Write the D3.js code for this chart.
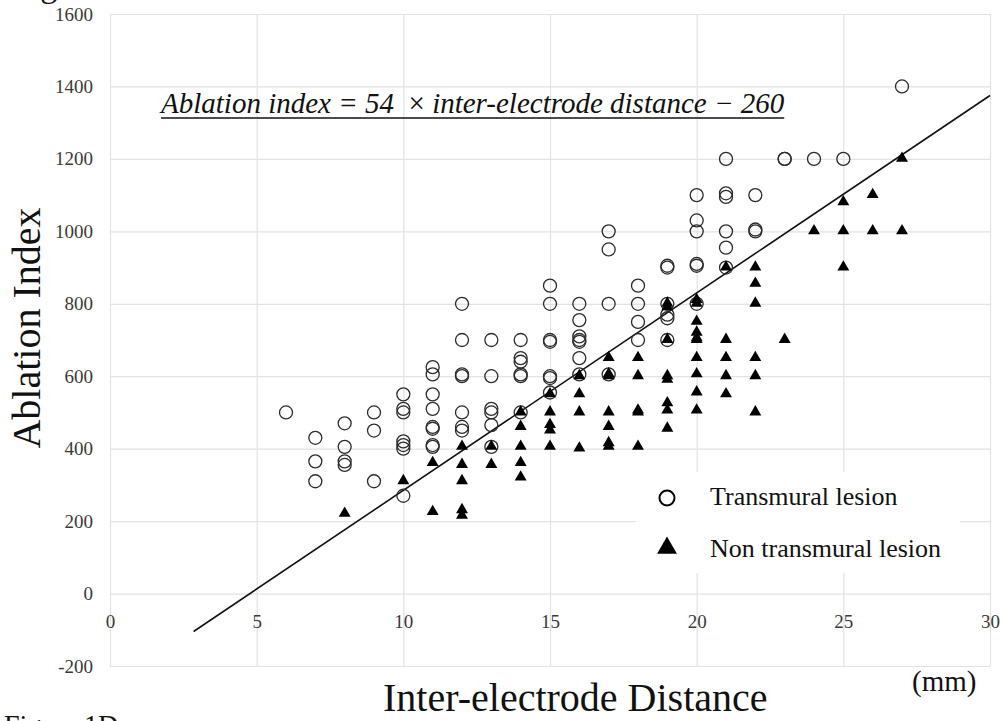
<!DOCTYPE html>
<html>
<head>
<meta charset="utf-8">
<script src="https://cdn.jsdelivr.net/npm/d3@7"></script>
<style>
  body { margin: 0; background: #fff; }
  svg { display: block; font-family: "Liberation Serif", "Times New Roman", serif; }
</style>
</head>
<body>
<svg id="chart" width="1003" height="721"></svg>
<script>
// tick values
var xTicks = [0, 5, 10, 15, 20, 25, 30];
var yTicks = [-200, 0, 200, 400, 600, 800, 1000, 1200, 1400, 1600];

// [inter-electrode distance (mm), ablation index]
var transmural = [
    [6,500],
    [7,430],[7,365],[7,310],
    [8,470],[8,405],[8,365],[8,355],
    [9,500],[9,450],[9,310],
    [10,550],[10,510],[10,500],[10,420],[10,410],[10,400],[10,270],
    [11,625],[11,605],[11,550],[11,510],[11,460],[11,455],[11,410],[11,405],
    [12,800],[12,700],[12,605],[12,600],[12,500],[12,460],[12,450],
    [13,700],[13,600],[13,510],[13,500],[13,465],[13,405],
    [14,700],[14,650],[14,640],[14,605],[14,600],[14,500],
    [15,850],[15,800],[15,700],[15,695],[15,600],[15,595],[15,555],
    [16,800],[16,755],[16,710],[16,700],[16,695],[16,650],[16,605],
    [17,1000],[17,950],[17,800],[17,605],
    [18,850],[18,800],[18,750],[18,700],
    [19,905],[19,900],[19,800],[19,770],[19,760],[19,700],
    [20,1100],[20,1030],[20,1000],[20,910],[20,905],[20,800],
    [21,1200],[21,1105],[21,1095],[21,1000],[21,955],[21,900],
    [22,1100],[22,1000],[22,1005],
    [23,1200],[23,1200],
    [24,1200],
    [25,1200],
    [27,1400]
];
var nonTransmural = [
    [8,220],
    [10,310],
    [11,360],[11,225],
    [12,405],[12,355],[12,310],[12,230],[12,215],
    [13,405],[13,355],
    [14,500],[14,460],[14,405],[14,360],[14,320],
    [15,550],[15,500],[15,465],[15,450],[15,405],
    [16,600],[16,550],[16,500],[16,400],
    [17,650],[17,605],[17,600],[17,500],[17,460],[17,415],[17,405],
    [18,650],[18,600],[18,505],[18,500],[18,405],
    [19,800],[19,790],[19,700],[19,600],[19,590],[19,525],[19,505],[19,455],
    [20,810],[20,800],[20,750],[20,720],[20,705],[20,700],[20,650],[20,605],[20,555],[20,505],
    [21,900],[21,700],[21,650],[21,600],[21,550],
    [22,900],[22,855],[22,800],[22,650],[22,600],[22,500],
    [23,700],
    [24,1000],
    [25,1080],[25,1000],[25,900],
    [26,1100],[26,1000],
    [27,1200],[27,1000]
];

// fitted line as drawn in the figure
var fitSlope = 54.5, fitIntercept = -260, fitRange = [2.85, 30];

var legendLabels = ["Transmural lesion", "Non transmural lesion"];

function drawChart()
{
    var l_svg = d3.select( "#chart" ),
        l_left = 110, l_right = 990, l_top = 14, l_bottom = 666,
        l_x = d3.scaleLinear().domain( [0, 30] ).range( [l_left, l_right] ),
        l_y = d3.scaleLinear().domain( [-200, 1600] ).range( [l_bottom, l_top] ),
        l_grid = "#e2e2e2",
        l_tickcolor = "#3a3a3a",
        l_font = "Liberation Serif, Times New Roman, serif",
        l_plain = function( d ) { return String( d ); };

    l_svg.append( "rect" ).attr( "width", 1003 ).attr( "height", 721 ).attr( "fill", "#fff" );

    // vertical gridlines
    l_svg.append( "g" )
            .attr( "class", "xgrid" )
            .attr( "transform", "translate(0," + l_bottom + ")" )
            .call( d3.axisBottom( l_x ).tickValues( xTicks ).tickSize( -( l_bottom - l_top ) ).tickFormat( "" ) );

    // horizontal gridlines + y labels
    l_svg.append( "g" )
            .attr( "class", "yaxis" )
            .attr( "transform", "translate(" + l_left + ",0)" )
            .call( d3.axisLeft( l_y ).tickValues( yTicks ).tickFormat( l_plain ).tickSize( -( l_right - l_left ) ).tickPadding( 17 ) );

    // x labels sit under the zero line
    l_svg.append( "g" )
            .attr( "class", "xaxis" )
            .attr( "transform", "translate(0," + l_y( 0 ) + ")" )
            .call( d3.axisBottom( l_x ).tickValues( xTicks ).tickFormat( l_plain ).tickSize( 0 ).tickPadding( 21 ) );

    l_svg.selectAll( ".domain" ).remove();
    l_svg.selectAll( ".xgrid line, .yaxis line" ).attr( "stroke", l_grid ).attr( "stroke-width", 1.2 );
    l_svg.selectAll( ".yaxis text, .xaxis text" )
        .attr( "fill", l_tickcolor )
        .style( "font-family", l_font )
        .style( "font-size", "19px" );

    // legend box hides the grid behind it
    var l_legend = l_svg.append( "g" ).attr( "class", "legend" );
    l_legend.append( "rect" )
        .attr( "x", 636 ).attr( "y", 472 )
        .attr( "width", 324 ).attr( "height", 101 )
        .attr( "fill", "#fff" );

    // fit line
    var l_line = d3.line()
        .x( function( d ) { return l_x( d ); } )
        .y( function( d ) { return l_y( fitSlope * d + fitIntercept ); } );
    l_svg.append( "path" )
        .datum( fitRange )
        .attr( "d", l_line )
        .attr( "fill", "none" )
        .attr( "stroke", "#111" )
        .attr( "stroke-width", 1.6 );

    // transmural: open circles
    l_svg.append( "g" ).selectAll( "circle" )
            .data( transmural )
        .enter().append( "circle" )
            .attr( "cx", function( d ) { return l_x( d[0] ); } )
            .attr( "cy", function( d ) { return l_y( d[1] ); } )
            .attr( "r", 6.5 )
            .attr( "fill", "none" )
            .attr( "stroke", "#2b2b2b" )
            .attr( "stroke-width", 1.3 );

    // non transmural: filled triangles
    var l_tri = d3.symbol().type( d3.symbolTriangle ).size( 62 );
    l_svg.append( "g" ).selectAll( "path" )
            .data( nonTransmural )
        .enter().append( "path" )
            .attr( "d", l_tri )
            .attr( "transform", function( d ) { return "translate(" + l_x( d[0] ) + "," + ( l_y( d[1] ) - 0.5 ) + ")"; } )
            .attr( "fill", "#000" );

    // legend entries
    l_legend.append( "circle" )
        .attr( "cx", 667 ).attr( "cy", 498 ).attr( "r", 7.5 )
        .attr( "fill", "none" ).attr( "stroke", "#000" ).attr( "stroke-width", 2 );
    l_legend.append( "path" )
        .attr( "d", d3.symbol().type( d3.symbolTriangle ).size( 170 ) )
        .attr( "transform", "translate(667,548)" )
        .attr( "fill", "#000" );
    l_legend.selectAll( "text" )
            .data( legendLabels )
        .enter().append( "text" )
            .attr( "x", 710 )
            .attr( "y", function( d, i ) { return i === 0 ? 505 : 557; } )
            .style( "font-size", "26px" )
            .attr( "fill", "#111" )
            .text( function( d ) { return d; } );

    // equation
    var l_eq = l_svg.append( "text" )
        .attr( "x", 161 ).attr( "y", 113 )
        .attr( "xml:space", "preserve" )
        .style( "font-family", l_font )
        .style( "font-size", "29px" )
        .attr( "fill", "#111" );
    l_eq.append( "tspan" ).style( "font-style", "italic" ).text( "Ablation index = 54  " );
    l_eq.append( "tspan" ).text( "\u00d7 " );
    l_eq.append( "tspan" ).style( "font-style", "italic" ).text( "inter-electrode distance \u2212 260" );
    var l_w = l_eq.node().getComputedTextLength();
    l_svg.append( "line" )
        .attr( "x1", 161 ).attr( "x2", 161 + l_w )
        .attr( "y1", 118 ).attr( "y2", 118 )
        .attr( "stroke", "#111" ).attr( "stroke-width", 1.6 );

    // axis titles
    l_svg.append( "text" )
        .attr( "transform", "translate(40,328) rotate(-90)" )
        .attr( "text-anchor", "middle" )
        .style( "font-size", "40px" )
        .attr( "fill", "#111" )
        .text( "Ablation Index" );
    l_svg.append( "text" )
        .attr( "x", 383 ).attr( "y", 711 )
        .style( "font-size", "40px" )
        .attr( "fill", "#111" )
        .text( "Inter-electrode Distance" );
    l_svg.append( "text" )
        .attr( "x", 912 ).attr( "y", 691 )
        .style( "font-size", "29px" )
        .attr( "fill", "#111" )
        .text( "(mm)" );

    // figure captions cut by the page edges
    l_svg.append( "text" )
        .attr( "x", 12 ).attr( "y", -3 )
        .style( "font-size", "34px" )
        .attr( "fill", "#111" )
        .text( "Figure 1C" );
    l_svg.append( "text" )
        .attr( "x", 4 ).attr( "y", 734 )
        .style( "font-size", "28px" )
        .attr( "fill", "#111" )
        .text( "Figure 1D" );
}

drawChart();
</script>
</body>
</html>
